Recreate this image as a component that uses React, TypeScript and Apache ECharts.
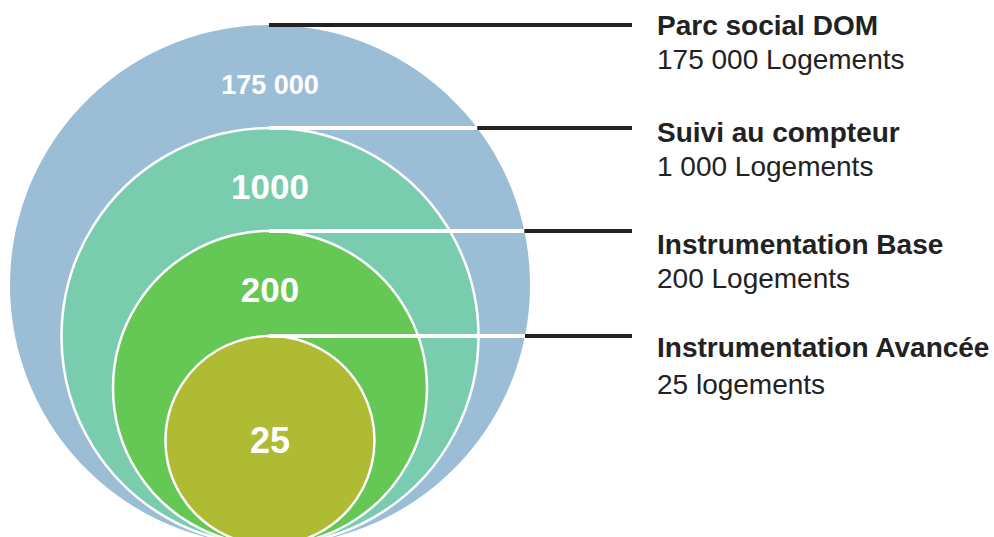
import React, { useEffect, useRef } from "react";
import * as echarts from "echarts";

// ---- data ----
const categories = ["Parc social DOM", "Suivi au compteur", "Instrumentation Base", "Instrumentation Avancée"];
const counts = [175000, 1000, 200, 25];
const circleLabels = ["175 000", "1000", "200", "25"];
const subLabels = ["175 000 Logements", "1 000 Logements", "200 Logements", "25 logements"];

// ---- layout (axis units = pixels of a 994x537 frame) ----
const W = 994;
const H = 537;
const CX = 270;
const BOTTOM = 545;
const RADII = [260, 208.5, 157, 104.5];
const CIRCLE_LABEL_Y = [85, 186, 289, 440];
const CIRCLE_LABEL_SIZE = [27, 35, 35, 36];
const LINE_END_X = 632;
const TEXT_X = 657;
const TITLE_Y = [25, 132, 244, 347];
const SUB_Y = [59, 166, 278, 384];
const COLORS = ["#9bbdd6", "#79cdae", "#66c854", "#aebb33"];
const FONT = "'Liberation Sans', Arial, Helvetica, sans-serif";

export default function App() {
  const ref = useRef<HTMLDivElement>(null);
  useEffect(() => {
    if (!ref.current) return;
    const chart = echarts.init(ref.current, undefined, { renderer: "svg" });
    const renderItem = (params: any, api: any) => {
      const i = api.value(0);
      const r = RADII[i];
      const c = api.coord([CX, BOTTOM - r]);
      const rp = api.size([r, 0])[0];
      const topY = api.coord([CX, BOTTOM - 2 * r])[1];
      const lineEnd = api.coord([LINE_END_X, 0])[0];
      const R0 = RADII[0];
      const c0y = BOTTOM - R0;
      const lineY = BOTTOM - 2 * r;
      const edgeX = CX + Math.sqrt(Math.max(0, R0 * R0 - (lineY - c0y) * (lineY - c0y)));
      const edgeP = api.coord([edgeX, lineY])[0];
      const children: any[] = [
        {
          type: "circle",
          shape: { cx: c[0], cy: c[1], r: rp },
          style: {
            fill: COLORS[i],
            stroke: i === 0 ? null : "#ffffff",
            lineWidth: i === 0 ? 0 : 2.5,
          },
        },
        {
          type: "line",
          shape: { x1: c[0] - 1, y1: topY, x2: lineEnd, y2: topY },
          style: { stroke: "#222222", lineWidth: 4 },
        },
      ];
      if (i > 0) {
        children.push({
          type: "line",
          shape: { x1: c[0] - 1, y1: topY, x2: edgeP, y2: topY },
          style: { stroke: "#ffffff", lineWidth: 4 },
        });
      }
      children.push(
        {
          type: "text",
          style: {
            text: circleLabels[i],
            x: c[0],
            y: api.coord([CX, CIRCLE_LABEL_Y[i]])[1],
            fill: "#ffffff",
            fontSize: CIRCLE_LABEL_SIZE[i],
            fontWeight: "bold",
            fontFamily: FONT,
            align: "center",
            verticalAlign: "middle",
          },
        },
        {
          type: "text",
          style: {
            text: categories[i],
            x: api.coord([TEXT_X, 0])[0],
            y: api.coord([0, TITLE_Y[i]])[1],
            fill: "#222222",
            fontSize: 28,
            fontWeight: "bold",
            fontFamily: FONT,
            align: "left",
            verticalAlign: "middle",
          },
        },
        {
          type: "text",
          style: {
            text: subLabels[i],
            x: api.coord([TEXT_X, 0])[0],
            y: api.coord([0, SUB_Y[i]])[1],
            fill: "#222222",
            fontSize: 28,
            fontWeight: "normal",
            fontFamily: FONT,
            align: "left",
            verticalAlign: "middle",
          },
        }
      );
      return { type: "group", children };
    };
    chart.setOption({
      animation: false,
      backgroundColor: "#ffffff",
      grid: { left: 0, right: 0, top: 0, bottom: 0 },
      xAxis: { type: "value", min: 0, max: W, show: false },
      yAxis: { type: "value", min: 0, max: H, inverse: true, show: false },
      series: [
        {
          type: "custom",
          clip: false,
          renderItem,
          encode: { x: 1, y: 2 },
          data: counts.map((v, i) => [i, CX, BOTTOM - RADII[i], v]),
        },
      ],
    });
    return () => chart.dispose();
  }, []);
  return (
    <div
      ref={ref}
      style={{ position: "fixed", left: 0, top: 0, width: W, height: H }}
    />
  );
}
